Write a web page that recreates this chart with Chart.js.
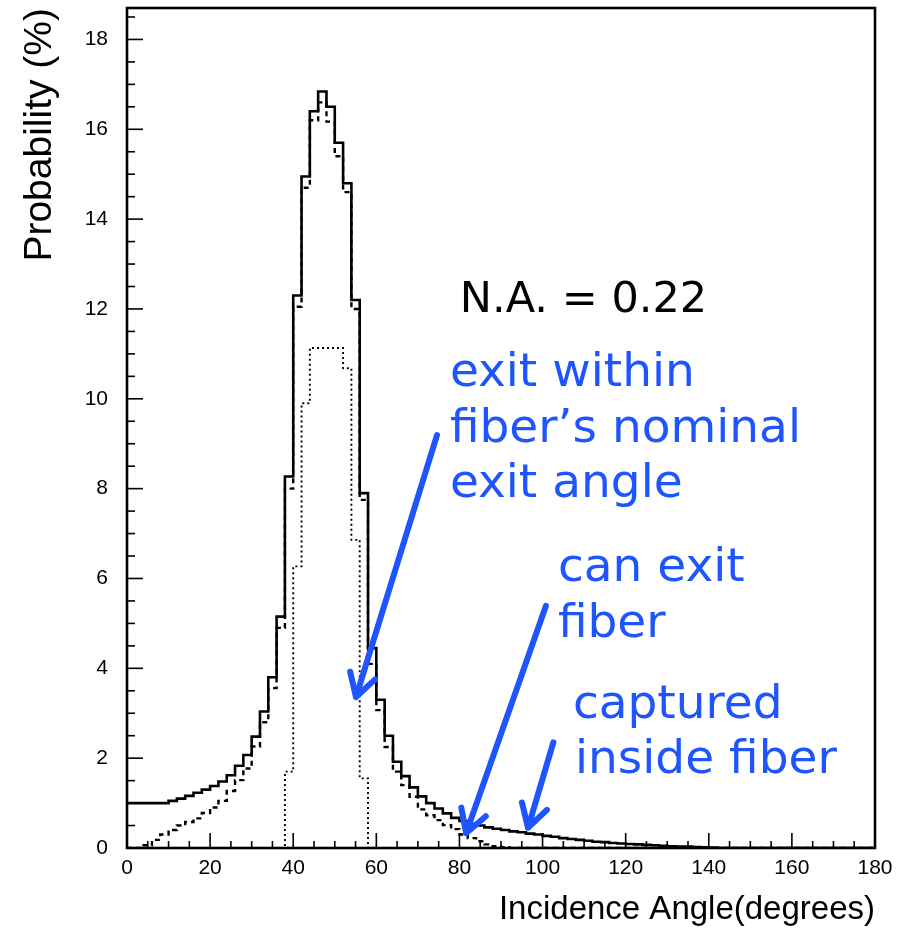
<!DOCTYPE html>
<html>
<head>
<meta charset="utf-8">
<script src="https://cdn.jsdelivr.net/npm/chart.js@4.4.1/dist/chart.umd.min.js"></script>
<style>
  html, body { margin: 0; padding: 0; background: #fff; }
</style>
</head>
<body>
<canvas id="angleChart" width="900" height="931"></canvas>
<script>
// left edge of each 2-degree bin
const binWidth = 2;
const binStarts = [
  0, 2, 4, 6, 8, 10, 12, 14, 16, 18,
  20, 22, 24, 26, 28, 30, 32, 34, 36, 38,
  40, 42, 44, 46, 48, 50, 52, 54, 56, 58,
  60, 62, 64, 66, 68, 70, 72, 74, 76, 78,
  80, 82, 84, 86, 88, 90, 92, 94, 96, 98,
  100, 102, 104, 106, 108, 110, 112, 114, 116, 118,
  120, 122, 124, 126, 128, 130, 132, 134, 136, 138,
  140, 142, 144, 146, 148, 150, 152, 154, 156, 158,
  160, 162, 164, 166, 168, 170, 172, 174, 176, 178
];

// solid: captured inside fiber (%)
const capturedInside = [
  1.0, 1.0, 1.0, 1.0, 1.0, 1.05, 1.1, 1.16, 1.23, 1.3,
  1.38, 1.48, 1.62, 1.83, 2.07, 2.48, 3.04, 3.8, 5.15, 8.27,
  12.3, 14.95, 16.4, 16.84, 16.5, 15.7, 14.8, 12.2, 7.9, 4.45,
  3.3, 2.5, 1.92, 1.6, 1.35, 1.15, 1.0, 0.88, 0.77, 0.67,
  0.6, 0.54, 0.5, 0.46, 0.43, 0.4, 0.37, 0.35, 0.32, 0.3,
  0.27, 0.25, 0.22, 0.2, 0.18, 0.16, 0.14, 0.13, 0.11, 0.1,
  0.09, 0.08, 0.07, 0.06, 0.05, 0.04, 0.035, 0.03, 0.02, 0.015,
  0.01, 0, 0, 0, 0, 0, 0, 0, 0, 0,
  0, 0, 0, 0, 0, 0, 0, 0, 0, 0
];

// dash-dot: can exit fiber (%)
const canExit = [
  0, 0, 0.06, 0.18, 0.3, 0.4, 0.5, 0.58, 0.66, 0.78,
  0.9, 1.05, 1.27, 1.51, 1.77, 2.26, 2.8, 3.56, 4.9, 8.0,
  12.05, 14.7, 16.2, 16.6, 16.17, 15.4, 14.6, 12.0, 7.75, 4.1,
  3.07, 2.25, 1.7, 1.4, 1.14, 0.86, 0.73, 0.62, 0.51, 0.42,
  0.3, 0.22, 0.15, 0.08, 0.04, 0.02, 0, 0, 0, 0,
  0, 0, 0, 0, 0, 0, 0, 0, 0, 0,
  0, 0, 0, 0, 0, 0, 0, 0, 0, 0,
  0, 0, 0, 0, 0, 0, 0, 0, 0, 0,
  0, 0, 0, 0, 0, 0, 0, 0, 0, 0
];

// dotted: exit within nominal exit angle (%)
const withinNominal = [
  0, 0, 0, 0, 0, 0, 0, 0, 0, 0,
  0, 0, 0, 0, 0, 0, 0, 0, 0, 1.7,
  6.27, 9.9, 11.13, 11.13, 11.13, 11.13, 10.68, 6.86, 1.55, 0,
  0, 0, 0, 0, 0, 0, 0, 0, 0, 0,
  0, 0, 0, 0, 0, 0, 0, 0, 0, 0,
  0, 0, 0, 0, 0, 0, 0, 0, 0, 0,
  0, 0, 0, 0, 0, 0, 0, 0, 0, 0,
  0, 0, 0, 0, 0, 0, 0, 0, 0, 0,
  0, 0, 0, 0, 0, 0, 0, 0, 0, 0
];

const xTicks = [0, 20, 40, 60, 80, 100, 120, 140, 160, 180];
const yTicks = [0, 2, 4, 6, 8, 10, 12, 14, 16, 18];

// annotations, placed in data units
const blue = '#1f55ff';
const naNote = { text: 'N.A. = 0.22', x: 80.1, y: 11.93 };
const blueNotes = [
  { text: 'exit within', x: 77.7, y: 10.28 },
  { text: 'fiber\u2019s nominal', x: 77.7, y: 9.04 },
  { text: 'exit angle', x: 77.7, y: 7.81 },
  { text: 'can exit', x: 103.7, y: 5.94 },
  { text: 'fiber', x: 103.7, y: 4.70 },
  { text: 'captured', x: 107.3, y: 2.89 },
  { text: 'inside fiber', x: 107.8, y: 1.67 }
];
const arrows = [
  { from: [74.6, 9.19], to: [55.1, 3.36] },
  { from: [100.8, 5.39], to: [81.6, 0.33] },
  { from: [102.6, 2.35], to: [96.5, 0.45] }
];

function toSteps(values) {
  const pts = binStarts.map((x, i) => ({ x: x, y: values[i] }));
  const last = binStarts.length - 1;
  pts.push({ x: binStarts[last] + binWidth, y: values[last] });
  return pts;
}

const frameAndTicks = {
  id: 'frameAndTicks',
  afterDatasetsDraw(chart) {
    const { ctx, chartArea: a, scales: { x, y } } = chart;
    ctx.save();
    ctx.strokeStyle = '#000';
    ctx.lineWidth = 1.6;
    for (let v = 5; v < 180; v += 5) {
      const px = x.getPixelForValue(v);
      const len = v % 20 === 0 ? 15 : 7;
      ctx.beginPath();
      ctx.moveTo(px, a.bottom);
      ctx.lineTo(px, a.bottom - len);
      ctx.stroke();
    }
    for (let v = 0.5; v < 18.6; v += 0.5) {
      const py = y.getPixelForValue(v);
      const len = v % 2 === 0 ? 16 : 8;
      ctx.beginPath();
      ctx.moveTo(a.left, py);
      ctx.lineTo(a.left + len, py);
      ctx.stroke();
    }
    ctx.lineWidth = 2.6;
    ctx.strokeRect(a.left, a.top, a.right - a.left, a.bottom - a.top);
    ctx.restore();
  }
};

const notesPlugin = {
  id: 'notes',
  afterDraw(chart) {
    const { ctx, scales: { x, y } } = chart;
    ctx.save();
    ctx.textBaseline = 'alphabetic';
    ctx.textAlign = 'left';
    ctx.fillStyle = '#000';
    ctx.font = '43px "DejaVu Sans"';
    ctx.fillText(naNote.text, x.getPixelForValue(naNote.x), y.getPixelForValue(naNote.y));

    ctx.fillStyle = blue;
    ctx.font = '47px "DejaVu Sans"';
    blueNotes.forEach(n => {
      ctx.fillText(n.text, x.getPixelForValue(n.x), y.getPixelForValue(n.y));
    });

    ctx.strokeStyle = blue;
    ctx.lineWidth = 6;
    ctx.lineCap = 'round';
    ctx.lineJoin = 'round';
    arrows.forEach(ar => {
      const x0 = x.getPixelForValue(ar.from[0]), y0 = y.getPixelForValue(ar.from[1]);
      const x1 = x.getPixelForValue(ar.to[0]), y1 = y.getPixelForValue(ar.to[1]);
      const ang = Math.atan2(y1 - y0, x1 - x0);
      const head = 26, spread = Math.PI / 6;
      ctx.beginPath();
      ctx.moveTo(x0, y0);
      ctx.lineTo(x1, y1);
      ctx.moveTo(x1 - head * Math.cos(ang - spread), y1 - head * Math.sin(ang - spread));
      ctx.lineTo(x1, y1);
      ctx.lineTo(x1 - head * Math.cos(ang + spread), y1 - head * Math.sin(ang + spread));
      ctx.stroke();
    });
    ctx.restore();
  }
};

const ctx = document.getElementById('angleChart').getContext('2d');
new Chart(ctx, {
  type: 'line',
  data: {
    datasets: [
      {
        label: 'captured inside fiber',
        data: toSteps(capturedInside),
        stepped: 'before',
        borderColor: '#000',
        borderWidth: 2.6,
        pointRadius: 0,
        fill: false
      },
      {
        label: 'can exit fiber',
        data: toSteps(canExit),
        stepped: 'before',
        borderColor: '#000',
        borderWidth: 2.4,
        borderDash: [5, 4],
        pointRadius: 0,
        fill: false
      },
      {
        label: 'exit within nominal exit angle',
        data: toSteps(withinNominal),
        stepped: 'before',
        borderColor: '#000',
        borderWidth: 1.9,
        borderDash: [2, 3],
        pointRadius: 0,
        fill: false
      }
    ]
  },
  options: {
    responsive: false,
    animation: false,
    layout: { padding: { left: 0, right: 25, top: 8, bottom: 0 } },
    plugins: {
      legend: { display: false },
      tooltip: { enabled: false }
    },
    scales: {
      x: {
        type: 'linear',
        min: 0,
        max: 180,
        grid: { display: false, drawTicks: false },
        border: { display: false },
        afterBuildTicks: s => { s.ticks = xTicks.map(v => ({ value: v })); },
        afterFit: s => { s.height = 83; s.paddingLeft = 0; s.paddingRight = 0; },
        ticks: {
          padding: 8,
          color: '#000',
          maxRotation: 0,
          autoSkip: false,
          font: { family: '"Liberation Sans"', size: 21 }
        },
        title: {
          display: true,
          text: 'Incidence Angle(degrees)',
          align: 'end',
          color: '#000',
          font: { family: '"Liberation Sans"', size: 33, lineHeight: 1.2 },
          padding: { top: 0, bottom: 1 }
        }
      },
      y: {
        min: 0,
        max: 18.7,
        grid: { display: false, drawTicks: false },
        border: { display: false },
        afterBuildTicks: s => { s.ticks = yTicks.map(v => ({ value: v })); },
        afterFit: s => { s.width = 127; s.paddingTop = 0; s.paddingBottom = 0; },
        ticks: {
          padding: 19,
          color: '#000',
          autoSkip: false,
          font: { family: '"Liberation Sans"', size: 21 }
        },
        title: {
          display: true,
          text: 'Probability (%)',
          align: 'end',
          color: '#000',
          font: { family: '"Liberation Sans"', size: 39, lineHeight: 1.2 },
          padding: { top: 17, bottom: 0 }
        }
      }
    }
  },
  plugins: [frameAndTicks, notesPlugin]
});
</script>
</body>
</html>
